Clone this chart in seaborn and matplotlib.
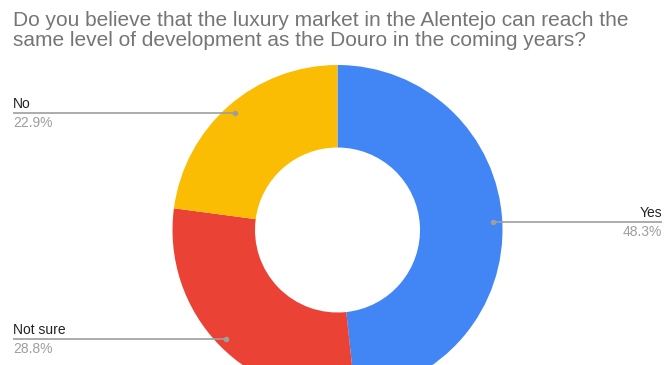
import numpy as np
import matplotlib
matplotlib.use("Agg")
import matplotlib.pyplot as plt
import seaborn as sns

# Survey answers
categories = ["Yes", "Not sure", "No"]
shares = [48.3, 28.8, 22.9]
colors = ["#4285F4", "#EA4335", "#FBBC04"]
title_lines = [
    "Do you believe that the luxury market in the Alentejo can reach the",
    "same level of development as the Douro in the coming years?",
]

sns.set_theme(style="white")
plt.rcParams["font.family"] = ["Liberation Sans", "DejaVu Sans"]

W, H = 664, 365
fig = plt.figure(figsize=(W / 100, H / 100), dpi=100)
ax = fig.add_axes([0, 0, 1, 1])

cx, cy = 337.5, H - 230
R = 165
ax.pie(
    shares,
    colors=colors,
    startangle=90,
    counterclock=False,
    center=(cx, cy),
    radius=R,
    wedgeprops=dict(width=R * 0.5, edgecolor="none"),
    frame=True,
)
ax.set_xlim(0, W)
ax.set_ylim(0, H)
ax.set_aspect("equal")
ax.axis("off")

# Leader lines with labels
total = sum(shares)
start = 90.0
leader_color = "#9E9E9E"
for cat, val in zip(categories, shares):
    span = val / total * 360
    mid = np.deg2rad(start - span / 2)
    start -= span
    dx = cx + 0.945 * R * np.cos(mid)
    dy = cy + 0.945 * R * np.sin(mid)
    if np.cos(mid) >= 0:
        x_end, ha = 662, "right"
    else:
        x_end, ha = 13, "left"
    ax.plot([dx, x_end], [dy, dy], color=leader_color, lw=1.2, solid_capstyle="butt")
    ax.plot([dx], [dy], "o", color=leader_color, ms=4, mec="none")
    ax.text(x_end, dy + 4.5, cat, ha=ha, va="baseline", fontsize=10, color="#222222")
    ax.text(x_end, dy - 14, f"{val:.1f}%", ha=ha, va="baseline", fontsize=10, color="#9E9E9E")

# Title
ax.text(13, H - 26, title_lines[0], ha="left", va="baseline", fontsize=15, color="#757575")
ax.text(13, H - 45.5, title_lines[1], ha="left", va="baseline", fontsize=15, color="#757575")

fig.savefig("out.png", dpi=100)
